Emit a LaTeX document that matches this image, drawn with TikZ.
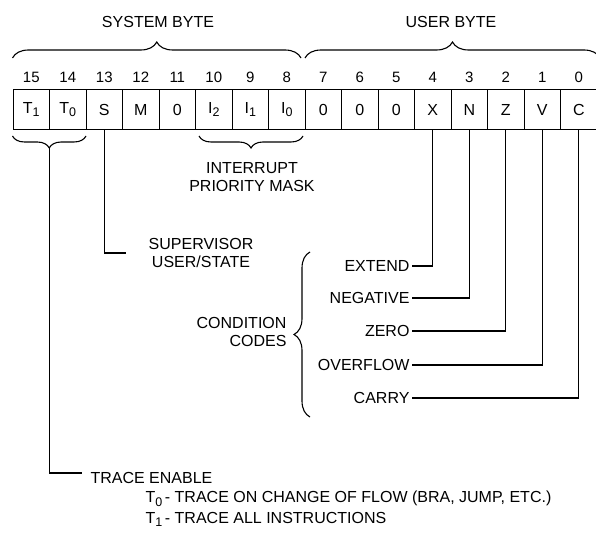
\documentclass[tikz,border=0pt]{standalone}
\usepackage{fontspec}
\setmainfont{Liberation Sans}
\usetikzlibrary{positioning, decorations.pathreplacing}
\newcommand{\sbt}[1]{\raisebox{-0.45ex}{\fontsize{12.5}{12.5}\selectfont #1}}

\begin{document}
\begin{tikzpicture}[
		x=1pt, y=-1pt, line width=1.1pt,
		bitcell/.style={draw=black, minimum width=36.5pt, minimum height=40pt, inner sep=0pt, anchor=north west, font=\fontsize{16}{16}\selectfont},
		bitnum/.style={font=\fontsize{15}{15}\selectfont, inner sep=0pt},
		lbl/.style={font=\fontsize{16}{18.5}\selectfont, inner sep=2pt},
		bracket/.style={decorate, decoration={brace, amplitude=#1}}
		]
		\useasboundingbox (0,0) rectangle (596,534);
		
		% Byte titles and braces
		\node[lbl] (sysbyte) at (158,22) {SYSTEM BYTE};
		\node[lbl] (usrbyte) at (451,22) {USER BYTE};
		\draw[bracket=16pt] (12.5,58) -- (301,58);
		\draw[bracket=16pt] (305,58) -- (600,58);
		
		% Register cells with bit numbers
		\foreach \n/\txt [count=\i from 0] in {15/{T\sbt{1}}, 14/{T\sbt{0}}, 13/S, 12/M, 11/0, 10/{I\sbt{2}}, 9/{I\sbt{1}}, 8/{I\sbt{0}}, 7/0, 6/0, 5/0, 4/X, 3/N, 2/Z, 1/V, 0/C} {
			\node[bitcell] (b\n) at (12.5+36.5*\i, 89) {\txt};
			\node[bitnum, above=6pt of b\n] (n\n) {\n};
		}
		
		% Trace bits
		\draw[bracket=12pt, decoration={mirror}] (12.5,136) -- (86,136);
		\coordinate (ttip) at (49.25,148);
		\node[lbl, anchor=west] (trace) at (88,478) {TRACE ENABLE};
		\node[lbl, anchor=west] (tzero) at (143,499) {T\sbt{0}\,- TRACE ON CHANGE OF FLOW (BRA, JUMP, ETC.)};
		\node[lbl, anchor=north west] (tone) at (tzero.south west) {T\sbt{1}\,- TRACE ALL INSTRUCTIONS};
		\draw (ttip) |- ([xshift=-6pt, yshift=5pt]trace.west);
		
		% Interrupt mask
		\draw[bracket=12pt, decoration={mirror}] (199,136) -- (303,136);
		\node[lbl, align=center] (mask) at (252,177) {INTERRUPT\\PRIORITY MASK};
		
		% Supervisor bit
		\node[lbl, align=center] (super) at (201,253) {SUPERVISOR\\USER/STATE};
		\draw (b13.south) |- ([xshift=-20pt]super.west);
		
		% Condition codes
		\draw[bracket=16pt] (310,417) -- (310,252);
		\node[lbl, align=right, anchor=east] (ccodes) at (289,332) {CONDITION\\CODES};
		\foreach \name/\txt/\y/\bit in {ext/EXTEND/266/4, neg/NEGATIVE/298/3, zer/ZERO/331/2, ovf/OVERFLOW/365/1, car/CARRY/398/0} {
			\node[lbl, anchor=east] (\name) at (412,\y) {\txt};
			\draw (\name.east) -| (b\bit.south);
		}
		
	\end{tikzpicture}
\end{document}
